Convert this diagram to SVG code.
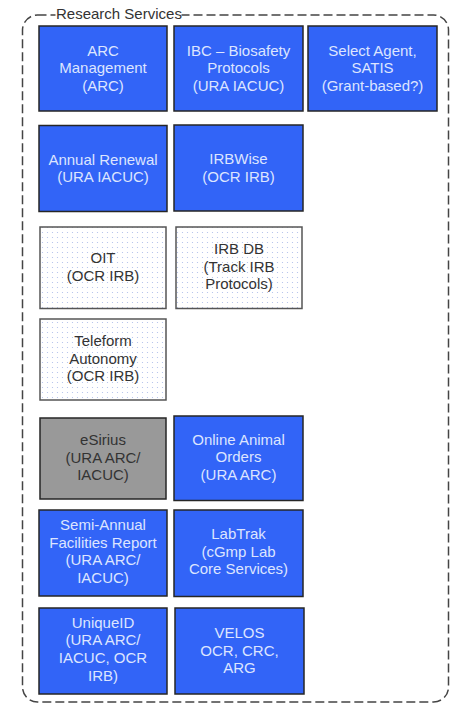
<svg xmlns="http://www.w3.org/2000/svg" width="454" height="704" viewBox="0 0 454 704">
  <defs>
    <pattern id="dots" width="5" height="5" patternUnits="userSpaceOnUse">
      <rect width="5" height="5" fill="#ffffff"/>
      <circle cx="2.5" cy="2.5" r="0.6" fill="#adbde9"/>
    </pattern>
    <style>
      .box { stroke: #262626; stroke-width: 1.5; }
      .blue { fill: #3264f7; }
      .gray { fill: #999999; }
      .dot { fill: url(#dots); stroke: #555555; }
      text { font-family: "Liberation Sans", Arial, sans-serif; font-size: 15px; text-anchor: middle; }
      .lt { fill: #dde5ff; }
      .dk { fill: #333333; }
      .title { fill: #333333; text-anchor: start; }
    </style>
  </defs>
  <rect width="454" height="704" fill="#ffffff"/>
  <g id="container">
    <rect x="22.5" y="15" width="426" height="687" rx="15" ry="15" fill="none" stroke="#444444" stroke-width="1.5" stroke-dasharray="9 4"/>
    <rect x="55.5" y="7" width="126" height="16" fill="#ffffff"/>
    <text class="title" x="56" y="19">Research Services</text>
  </g>
  <g id="connectors"></g>

  <g id="arc-management">
    <rect class="box blue" x="39" y="26" width="128" height="85"/>
    <text class="lt" x="103" y="55.5">ARC</text>
    <text class="lt" x="103" y="73">Management</text>
    <text class="lt" x="103" y="90.5">(ARC)</text>
  </g>
  <g id="ibc">
    <rect class="box blue" x="174" y="26" width="129" height="85"/>
    <text class="lt" x="238.5" y="55.5">IBC – Biosafety</text>
    <text class="lt" x="238.5" y="73">Protocols</text>
    <text class="lt" x="238.5" y="90.5">(URA IACUC)</text>
  </g>
  <g id="select-agent">
    <rect class="box blue" x="308" y="26" width="129" height="85"/>
    <text class="lt" x="372.5" y="55.5">Select Agent,</text>
    <text class="lt" x="372.5" y="73">SATIS</text>
    <text class="lt" x="372.5" y="90.5">(Grant-based?)</text>
  </g>

  <g id="annual-renewal">
    <rect class="box blue" x="39" y="125.5" width="128" height="86"/>
    <text class="lt" x="103" y="164.5">Annual Renewal</text>
    <text class="lt" x="103" y="182">(URA IACUC)</text>
  </g>
  <g id="irbwise">
    <rect class="box blue" x="174" y="125" width="129" height="86"/>
    <text class="lt" x="238.5" y="164">IRBWise</text>
    <text class="lt" x="238.5" y="181.5">(OCR IRB)</text>
  </g>

  <g id="oit">
    <rect class="box dot" x="40" y="227" width="126" height="81.5"/>
    <text class="dk" x="103" y="263">OIT</text>
    <text class="dk" x="103" y="280.5">(OCR IRB)</text>
  </g>
  <g id="irb-db">
    <rect class="box dot" x="176" y="227" width="126" height="81.5"/>
    <text class="dk" x="239" y="254">IRB DB</text>
    <text class="dk" x="239" y="271.5">(Track IRB</text>
    <text class="dk" x="239" y="289">Protocols)</text>
  </g>

  <g id="teleform">
    <rect class="box dot" x="40" y="319" width="126" height="81"/>
    <text class="dk" x="103" y="346">Teleform</text>
    <text class="dk" x="103" y="363.5">Autonomy</text>
    <text class="dk" x="103" y="381">(OCR IRB)</text>
  </g>

  <g id="esirius">
    <rect class="box gray" x="40" y="418" width="126" height="81"/>
    <text class="dk" x="103" y="445">eSirius</text>
    <text class="dk" x="103" y="462.5">(URA ARC/</text>
    <text class="dk" x="103" y="480">IACUC)</text>
  </g>
  <g id="online-animal-orders">
    <rect class="box blue" x="174" y="416" width="129" height="84.5"/>
    <text class="lt" x="238.5" y="444.5">Online Animal</text>
    <text class="lt" x="238.5" y="462">Orders</text>
    <text class="lt" x="238.5" y="479.5">(URA ARC)</text>
  </g>

  <g id="semi-annual">
    <rect class="box blue" x="39" y="510" width="128" height="86"/>
    <text class="lt" x="103" y="530">Semi-Annual</text>
    <text class="lt" x="103" y="547.7">Facilities Report</text>
    <text class="lt" x="103" y="565.4">(URA ARC/</text>
    <text class="lt" x="103" y="583.1">IACUC)</text>
  </g>
  <g id="labtrak">
    <rect class="box blue" x="174" y="510" width="129" height="86.5"/>
    <text class="lt" x="238.5" y="539">LabTrak</text>
    <text class="lt" x="238.5" y="556.7">(cGmp Lab</text>
    <text class="lt" x="238.5" y="574.4">Core Services)</text>
  </g>

  <g id="uniqueid">
    <rect class="box blue" x="39" y="608" width="128" height="86"/>
    <text class="lt" x="103" y="627.5">UniqueID</text>
    <text class="lt" x="103" y="645.2">(URA ARC/</text>
    <text class="lt" x="103" y="662.9">IACUC, OCR</text>
    <text class="lt" x="103" y="680.6">IRB)</text>
  </g>
  <g id="velos">
    <rect class="box blue" x="175" y="608" width="129" height="86"/>
    <text class="lt" x="239.5" y="638">VELOS</text>
    <text class="lt" x="239.5" y="655.7">OCR, CRC,</text>
    <text class="lt" x="239.5" y="673.4">ARG</text>
  </g>
</svg>
